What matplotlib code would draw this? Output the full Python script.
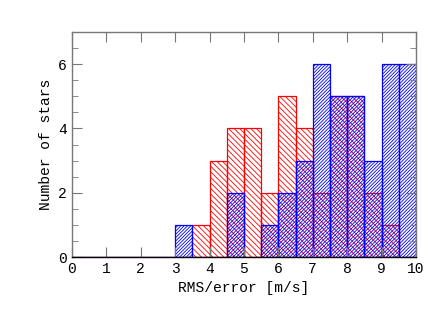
import numpy as np
import matplotlib.pyplot as plt
from matplotlib.ticker import MultipleLocator

# bin left edges (width 0.5) and counts
bin_left = np.arange(0, 10, 0.5)
red_counts = [0, 0, 0, 0, 0, 0, 0, 1, 3, 4, 4, 2, 5, 4, 2, 5, 5, 2, 1, 0]
blue_counts = [0, 0, 0, 0, 0, 0, 1, 0, 0, 2, 0, 1, 2, 3, 6, 5, 5, 3, 6, 6]

plt.rcParams['font.family'] = ['Liberation Mono', 'DejaVu Sans Mono']
plt.rcParams['hatch.linewidth'] = 0.6

fig = plt.figure(figsize=(4.36, 3.27), dpi=100)
ax = fig.add_axes([0.165, 0.214, 0.789, 0.688])

ax.bar(bin_left, red_counts, width=0.5, align='edge', fill=False,
       edgecolor='red', hatch='\\' * 6, linewidth=0.9)
ax.bar(bin_left, blue_counts, width=0.5, align='edge', fill=False,
       edgecolor='blue', hatch='/' * 10, linewidth=0.9)

ax.set_xlim(0, 10)
ax.set_ylim(0, 7)
ax.xaxis.set_major_locator(MultipleLocator(1))
ax.yaxis.set_major_locator(MultipleLocator(2))
ax.yaxis.set_minor_locator(MultipleLocator(0.5))
ax.tick_params(which='both', direction='in', top=True, right=True,
               color='#777777', labelsize=10.5)
ax.tick_params(which='major', length=7)
ax.tick_params(which='minor', length=4)
for s in ax.spines.values():
    s.set_color('#777777')
    s.set_linewidth(1)
ax.spines['bottom'].set_color('black')

ax.set_xlabel('RMS/error [m/s]', fontsize=10.5)
ax.set_ylabel('Number of stars', fontsize=10.5)

fig.savefig('out.png', dpi=100)
